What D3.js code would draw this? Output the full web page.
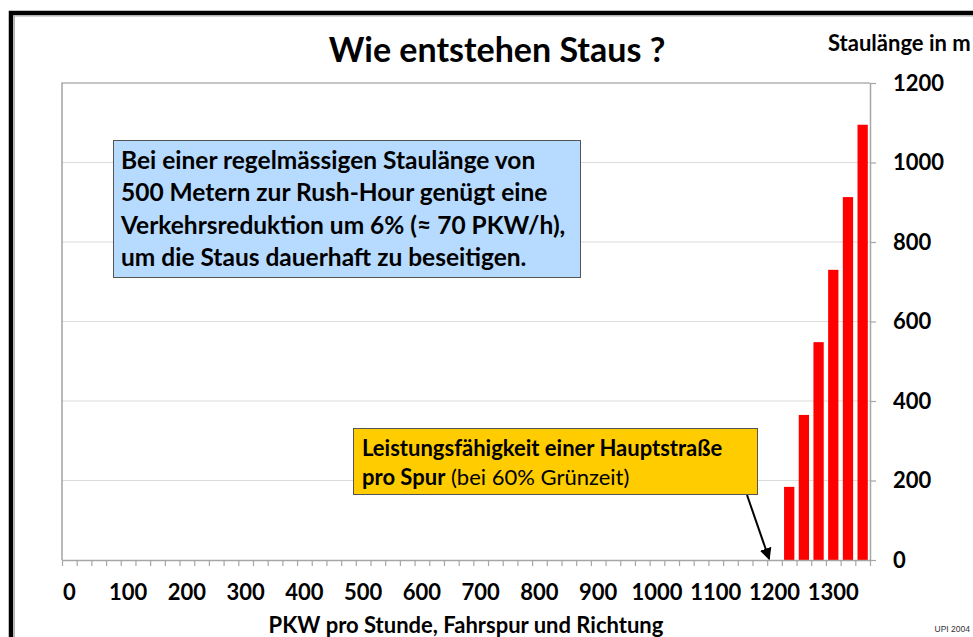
<!DOCTYPE html>
<html>
<head>
<meta charset="utf-8">
<script src="https://cdn.jsdelivr.net/npm/d3@7"></script>
<style>
  body { margin: 0; background: #fff; }
  svg { display: block; font-family: Lato, "Open Sans", sans-serif; }
</style>
</head>
<body>
<svg id="chart" width="973" height="637"></svg>
<script>
// categories of the x axis (PKW per hour, 25 step)
const categories = d3.range(0, 1375, 25);
const xTickLabels = [0, 100, 200, 300, 400, 500, 600, 700, 800, 900, 1000, 1100, 1200, 1300];
const barCategories = [1225, 1250, 1275, 1300, 1325, 1350];
const barValues = [184, 365, 548, 730, 913, 1095];
const yTicks = [0, 200, 400, 600, 800, 1000, 1200];

const svg = d3.select('#chart');

// frame of the slide
svg.append('path')
    .attr('d', 'M11,640 V13 H980')
    .attr('fill', 'none')
    .attr('stroke', '#000')
    .attr('stroke-width', 4.5);
svg.append('path')
    .attr('d', 'M14.3,640 V16 H980')
    .attr('fill', 'none')
    .attr('stroke', '#aaa')
    .attr('stroke-width', 1.2);

const pLeft = 62, pRight = 870, pTop = 83, pBottom = 560;

const x = d3.scaleBand().domain(categories).range([pLeft, pRight]).padding(0);
const xEdge = d3.scaleLinear().domain([0, categories.length]).range([pLeft, pRight]);
const y = d3.scaleLinear().domain([0, 1200]).range([pBottom, pTop]);

// gridlines
svg.append('g')
    .selectAll('line')
    .data(yTicks.filter(d => d > 0 && d < 1200))
    .enter()
    .append('line')
    .attr('x1', pLeft)
    .attr('x2', pRight)
    .attr('y1', d => y(d))
    .attr('y2', d => y(d))
    .attr('stroke', '#dcdcdc')
    .attr('stroke-width', 1.2);

// plot area border (left + top)
svg.append('path')
    .attr('d', `M${pLeft},${pBottom} V${pTop} H${pRight}`)
    .attr('fill', 'none')
    .attr('stroke', '#8c8c8c')
    .attr('stroke-width', 1.2);

// bars
const bw = x.bandwidth();
svg.append('g')
    .selectAll('rect')
    .data(barCategories.map((c, i) => ({ c: c, v: barValues[i] })))
    .enter()
    .append('rect')
    .attr('x', d => x(d.c) + bw * 0.15)
    .attr('width', bw * 0.7)
    .attr('y', d => y(d.v))
    .attr('height', d => y(0) - y(d.v))
    .attr('fill', '#ff0000');

// x axis ticks at category edges
const xTickAxis = svg.append('g')
    .attr('transform', `translate(0,${pBottom})`)
    .call(d3.axisBottom(xEdge).tickValues(d3.range(categories.length + 1)).tickFormat('').tickSize(6).tickSizeOuter(0));
xTickAxis.select('.domain').attr('stroke', '#a6a6a6').attr('stroke-width', 1.5);
xTickAxis.selectAll('.tick line').attr('stroke', '#a6a6a6').attr('stroke-width', 1.2);

// x axis labels at category centers
const xLabelAxis = svg.append('g')
    .attr('transform', `translate(0,${pBottom})`)
    .call(d3.axisBottom(x).tickValues(xTickLabels).tickSize(0).tickPadding(24));
xLabelAxis.select('.domain').remove();
xLabelAxis.selectAll('text')
    .attr('font-family', 'Lato')
    .attr('font-weight', 'bold')
    .attr('font-size', 22)
    .attr('fill', '#000');

// y axis on the right
const yAxis = svg.append('g')
    .attr('transform', `translate(${pRight},0)`)
    .call(d3.axisRight(y).tickValues(yTicks).tickFormat(d3.format('d')).tickSize(6).tickPadding(17).tickSizeOuter(0));
yAxis.select('.domain').attr('stroke', '#a6a6a6').attr('stroke-width', 1.5);
yAxis.selectAll('.tick line').attr('stroke', '#a6a6a6').attr('stroke-width', 1.2);
yAxis.selectAll('text')
    .attr('font-family', 'Lato')
    .attr('font-weight', 'bold')
    .attr('font-size', 22)
    .attr('fill', '#000');

// titles
svg.append('text')
    .attr('x', 497)
    .attr('y', 62)
    .attr('text-anchor', 'middle')
    .attr('font-weight', 'bold')
    .attr('font-size', 34)
    .text('Wie entstehen Staus ?');

svg.append('text')
    .attr('x', 828)
    .attr('y', 51)
    .attr('font-weight', 'bold')
    .attr('font-size', 22)
    .text('Staulänge in m');

svg.append('text')
    .attr('x', 466)
    .attr('y', 633)
    .attr('text-anchor', 'middle')
    .attr('font-weight', 'bold')
    .attr('font-size', 22)
    .text('PKW pro Stunde, Fahrspur und Richtung');

svg.append('text')
    .attr('x', 970)
    .attr('y', 632)
    .attr('text-anchor', 'end')
    .attr('font-family', 'Liberation Sans, Arial, sans-serif')
    .attr('font-size', 8.5)
    .attr('fill', '#333')
    .text('UPI 2004');

// blue note box
const noteLines = [
    'Bei einer regelmässigen Staulänge von',
    '500 Metern zur Rush-Hour genügt eine',
    'Verkehrsreduktion um 6% (≈ 70 PKW/h),',
    'um die Staus dauerhaft zu beseitigen.'
];
svg.append('rect')
    .attr('x', 113.5)
    .attr('y', 140.5)
    .attr('width', 467)
    .attr('height', 137)
    .attr('fill', '#b7daff')
    .attr('stroke', '#555')
    .attr('stroke-width', 1);
svg.append('g')
    .selectAll('text')
    .data(noteLines)
    .enter()
    .append('text')
    .attr('x', 121)
    .attr('y', (d, i) => 169 + i * 32.4)
    .attr('font-weight', 'bold')
    .attr('font-size', 24.5)
    .text(d => d);

// yellow capacity box with arrow
svg.append('defs')
    .append('marker')
    .attr('id', 'arrow')
    .attr('viewBox', '0 0 10 10')
    .attr('refX', 9)
    .attr('refY', 5)
    .attr('markerWidth', 6)
    .attr('markerHeight', 6)
    .attr('orient', 'auto')
    .append('path')
    .attr('d', 'M0,0 L10,5 L0,10 Z')
    .attr('fill', '#000');

svg.append('line')
    .attr('x1', 747)
    .attr('y1', 495)
    .attr('x2', xEdge(48) + 2)
    .attr('y2', pBottom - 1)
    .attr('stroke', '#000')
    .attr('stroke-width', 2)
    .attr('marker-end', 'url(#arrow)');

svg.append('rect')
    .attr('x', 353.5)
    .attr('y', 428.5)
    .attr('width', 404)
    .attr('height', 66)
    .attr('fill', '#ffcc00')
    .attr('stroke', '#555')
    .attr('stroke-width', 1);
svg.append('text')
    .attr('x', 362)
    .attr('y', 456)
    .attr('font-weight', 'bold')
    .attr('font-size', 22)
    .text('Leistungsfähigkeit einer Hauptstraße');
const t2 = svg.append('text')
    .attr('x', 362)
    .attr('y', 485)
    .attr('font-size', 22);
t2.append('tspan').attr('font-weight', 'bold').text('pro Spur');
t2.append('tspan').text(' (bei 60% Grünzeit)');
</script>
</body>
</html>
